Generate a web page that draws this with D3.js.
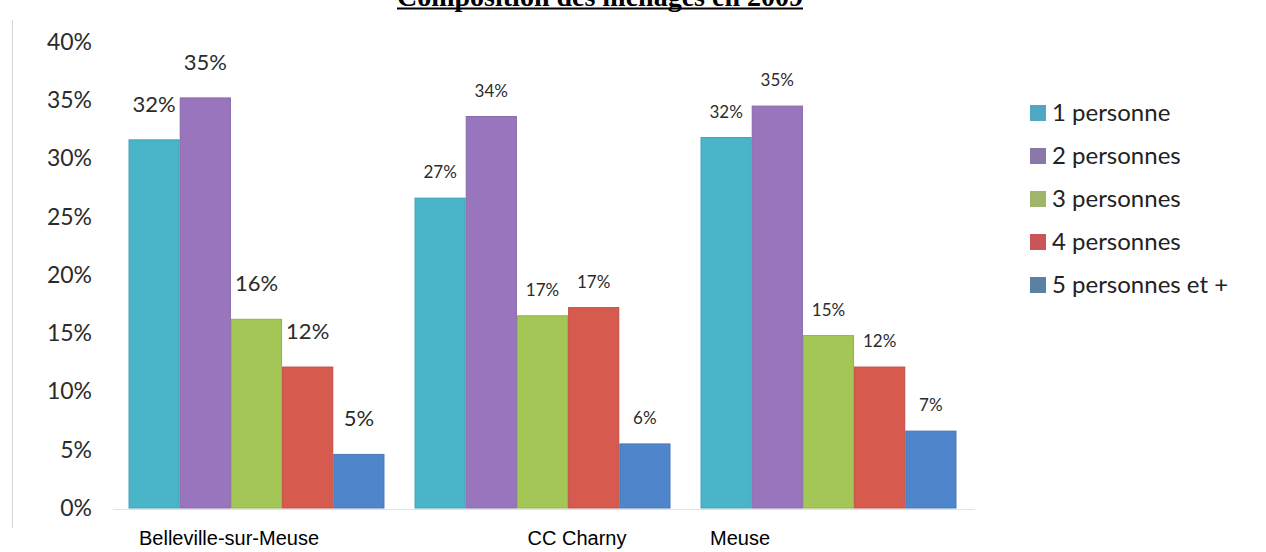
<!DOCTYPE html>
<html>
<head>
<meta charset="utf-8">
<script src="https://cdn.jsdelivr.net/npm/d3@7"></script>
<style>
  html, body { margin: 0; padding: 0; background: #fff; }
  svg { display: block; }
</style>
</head>
<body>
<svg id="chart" width="1266" height="552"></svg>
<script>
// Household composition, 2009 (share of households by size)
const communes = ["Belleville-sur-Meuse", "CC Charny", "Meuse"];
const seriesNames = ["1 personne", "2 personnes", "3 personnes", "4 personnes", "5 personnes et +"];
const onePerson    = [31.6, 26.6, 31.8];
const twoPersons   = [35.2, 33.6, 34.5];
const threePersons = [16.2, 16.5, 14.8];
const fourPersons  = [12.1, 17.2, 12.1];
const fivePlus     = [4.6, 5.5, 6.6];
const yTicks = [0, 5, 10, 15, 20, 25, 30, 35, 40];

const seriesValues = [onePerson, twoPersons, threePersons, fourPersons, fivePlus];
const colors = ["#4ab4c9", "#9875bd", "#a3c656", "#d75a4f", "#4f86cb"];
const legendColors = ["#4ea8c4", "#8a78a8", "#9fb56a", "#c9545b", "#5a80a2"];

const svg = d3.select("#chart");

// Scales
const y = d3.scaleLinear().domain([0, 40]).range([508, 42]);
const x0 = d3.scaleBand().domain(communes).range([113.5, 971.5])
  .paddingInner(0.105).paddingOuter(0.0525);
const x1 = d3.scaleBand().domain(seriesNames).range([0, x0.bandwidth()]).padding(0);
const color = d3.scaleOrdinal().domain(seriesNames).range(colors);

// Title, sitting against the top edge of the page
const title = svg.append("text")
  .attr("x", 600).attr("y", 6)
  .attr("text-anchor", "middle")
  .style("font-family", "'Liberation Serif', 'Times New Roman', serif")
  .style("font-weight", "bold")
  .style("font-size", "28px")
  .attr("fill", "#000")
  .text("Composition des ménages en 2009");
const tb = title.node().getBBox();
svg.append("line")
  .attr("x1", tb.x).attr("x2", tb.x + tb.width)
  .attr("y1", 8.5).attr("y2", 8.5)
  .attr("stroke", "#000").attr("stroke-width", 1.8);

// Frame line on the left
svg.append("line")
  .attr("x1", 12.5).attr("x2", 12.5).attr("y1", 20).attr("y2", 528)
  .attr("stroke", "#d6d6d6").attr("stroke-width", 1);

// Y axis labels
const yAxis = d3.axisLeft(y).tickValues(yTicks).tickSize(0).tickPadding(0)
  .tickFormat(d => d + "%");
const gy = svg.append("g").attr("transform", "translate(92,0)").call(yAxis);
gy.select(".domain").remove();
gy.selectAll("text")
  .style("font-family", "Lato, 'Open Sans', sans-serif")
  .style("font-size", "23px")
  .attr("fill", "#2b2b2b");

// Baseline
svg.append("line")
  .attr("x1", 113).attr("x2", 975).attr("y1", y(0) + 1.5).attr("y2", y(0) + 1.5)
  .attr("stroke", "#e2e2e2").attr("stroke-width", 1);

// Bars
const rows = communes.map((c, gi) => ({
  commune: c, gi,
  values: seriesNames.map((s, si) => ({ series: s, value: seriesValues[si][gi] }))
}));

const groups = svg.append("g").selectAll("g").data(rows).join("g")
  .attr("transform", d => `translate(${x0(d.commune)},0)`);

groups.selectAll("rect").data(d => d.values).join("rect")
  .attr("x", d => x1(d.series) + 0.5)
  .attr("width", x1.bandwidth() - 1)
  .attr("y", d => y(d.value))
  .attr("height", d => y(0) - y(d.value))
  .attr("fill", d => color(d.series))
  .attr("stroke", d => d3.color(color(d.series)).darker(0.3))
  .attr("stroke-width", 1);

// Value labels
groups.each(function (d) {
  const big = d.gi === 0;
  d3.select(this).selectAll("text.val").data(d.values).join("text")
    .attr("class", "val")
    .attr("x", v => x1(v.series) + x1.bandwidth() / 2)
    .attr("y", v => y(v.value) - (big ? 28 : 20))
    .attr("text-anchor", "middle")
    .style("font-family", "Lato, 'Open Sans', sans-serif")
    .style("font-size", big ? "22px" : "17px")
    .attr("fill", "#2b2b2b")
    .text(v => Math.round(v.value) + "%");
});

// Commune captions under the chart
const captionX = [229, 577, 740];
svg.append("g").selectAll("text").data(communes).join("text")
  .attr("x", (d, i) => captionX[i])
  .attr("y", 545)
  .attr("text-anchor", "middle")
  .style("font-family", "'Liberation Sans', Arial, sans-serif")
  .style("font-size", "20px")
  .attr("fill", "#000")
  .text(d => d);

// Legend
const legend = svg.append("g").attr("transform", "translate(1030,0)");
const li = legend.selectAll("g").data(seriesNames).join("g")
  .attr("transform", (d, i) => `translate(0,${113 + i * 43})`);
li.append("rect")
  .attr("x", 0).attr("y", -8).attr("width", 16).attr("height", 16)
  .attr("fill", (d, i) => legendColors[i]);
li.append("text")
  .attr("x", 22).attr("y", 0).attr("dy", "0.35em")
  .style("font-family", "Lato, 'Open Sans', sans-serif")
  .style("font-size", "24px")
  .attr("fill", "#222")
  .text(d => d);
</script>
</body>
</html>
